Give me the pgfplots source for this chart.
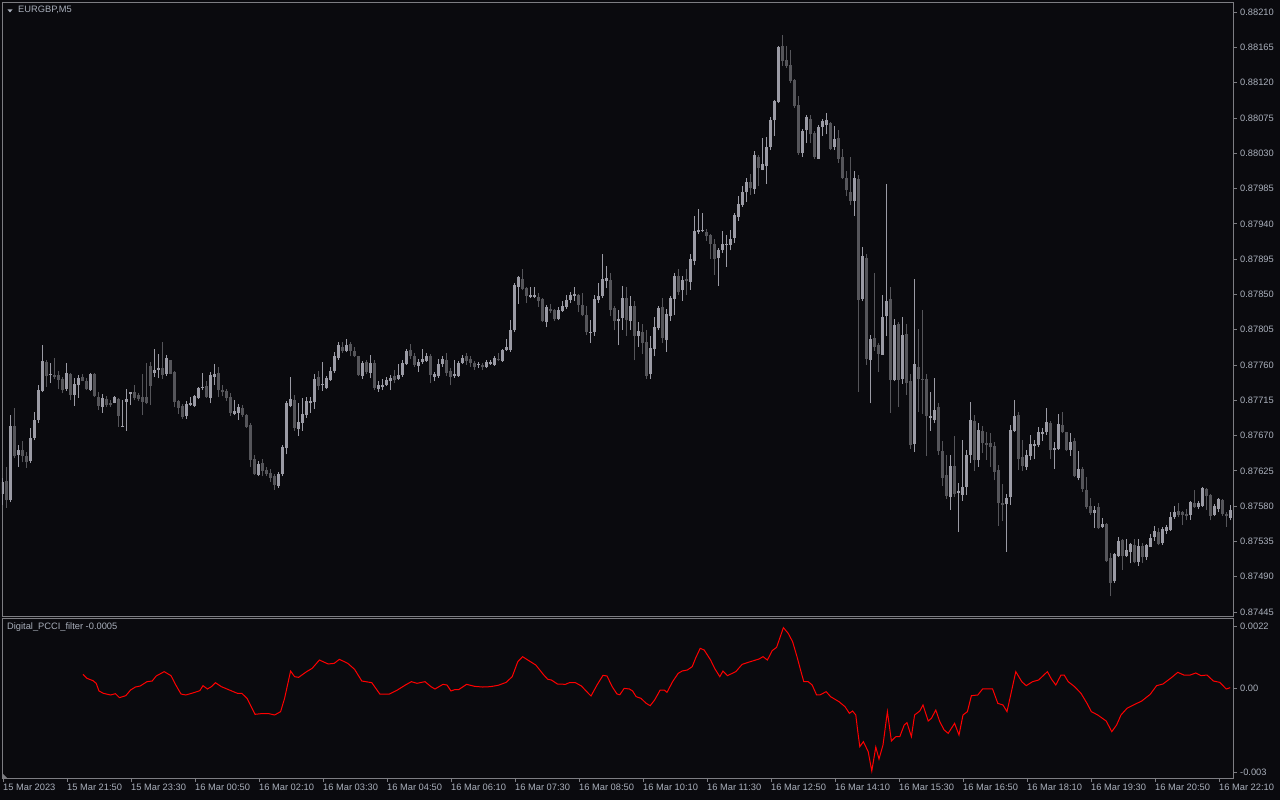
\documentclass[border=0pt]{standalone}
\usepackage{fontspec}
\setmainfont{Liberation Sans}
\usepackage{pgfplots}
\usepackage{pgfplotstable}
\pgfplotsset{compat=1.18}

\definecolor{bg}{RGB}{10,10,14}
\definecolor{bull}{RGB}{155,155,165}
\definecolor{bear}{RGB}{85,85,90}
\definecolor{framec}{RGB}{125,125,130}
\definecolor{lbl}{RGB}{170,176,188}

% EURGBP M5 bars: index, open, high, low, close
\pgfplotstableread{
x o h l c
0 0.87596 0.87616 0.87582 0.87611
1 0.87612 0.87630 0.87578 0.87588
2 0.87588 0.87696 0.87585 0.87682
3 0.87682 0.87705 0.87641 0.87644
4 0.87645 0.87658 0.87630 0.87652
5 0.87651 0.87663 0.87636 0.87644
6 0.87644 0.87649 0.87629 0.87636
7 0.87638 0.87680 0.87635 0.87667
8 0.87667 0.87700 0.87664 0.87690
9 0.87690 0.87735 0.87686 0.87728
10 0.87727 0.87785 0.87725 0.87765
11 0.87764 0.87766 0.87732 0.87746
12 0.87748 0.87763 0.87737 0.87749
13 0.87747 0.87769 0.87742 0.87745
14 0.87747 0.87752 0.87729 0.87741
15 0.87742 0.87745 0.87724 0.87728
16 0.87730 0.87762 0.87727 0.87750
17 0.87748 0.87750 0.87715 0.87722
18 0.87722 0.87743 0.87708 0.87736
19 0.87734 0.87747 0.87718 0.87744
20 0.87745 0.87749 0.87739 0.87740
21 0.87740 0.87743 0.87728 0.87729
22 0.87728 0.87750 0.87727 0.87748
23 0.87749 0.87750 0.87719 0.87720
24 0.87719 0.87726 0.87703 0.87708
25 0.87707 0.87723 0.87699 0.87718
26 0.87717 0.87720 0.87706 0.87709
27 0.87712 0.87715 0.87707 0.87709
28 0.87712 0.87720 0.87711 0.87719
29 0.87717 0.87718 0.87681 0.87695
30 0.87681 0.87716 0.87681 0.87682
31 0.87713 0.87729 0.87676 0.87717
32 0.87723 0.87725 0.87709 0.87725
33 0.87725 0.87735 0.87715 0.87718
34 0.87722 0.87724 0.87714 0.87717
35 0.87719 0.87749 0.87696 0.87713
36 0.87719 0.87763 0.87710 0.87712
37 0.87759 0.87764 0.87709 0.87733
38 0.87750 0.87781 0.87745 0.87753
39 0.87754 0.87774 0.87743 0.87756
40 0.87756 0.87789 0.87742 0.87747
41 0.87749 0.87773 0.87746 0.87769
42 0.87766 0.87767 0.87748 0.87749
43 0.87751 0.87752 0.87706 0.87713
44 0.87714 0.87715 0.87698 0.87705
45 0.87708 0.87710 0.87691 0.87694
46 0.87695 0.87714 0.87691 0.87710
47 0.87709 0.87719 0.87708 0.87712
48 0.87708 0.87722 0.87707 0.87720
49 0.87718 0.87732 0.87717 0.87731
50 0.87731 0.87750 0.87728 0.87732
51 0.87733 0.87739 0.87718 0.87719
52 0.87718 0.87751 0.87711 0.87747
53 0.87745 0.87761 0.87735 0.87748
54 0.87750 0.87757 0.87719 0.87728
55 0.87728 0.87734 0.87720 0.87725
56 0.87727 0.87729 0.87714 0.87718
57 0.87719 0.87724 0.87695 0.87699
58 0.87698 0.87715 0.87696 0.87701
59 0.87699 0.87710 0.87690 0.87706
60 0.87705 0.87709 0.87694 0.87696
61 0.87696 0.87697 0.87680 0.87681
62 0.87683 0.87686 0.87630 0.87639
63 0.87640 0.87645 0.87620 0.87621
64 0.87620 0.87638 0.87618 0.87634
65 0.87635 0.87640 0.87618 0.87625
66 0.87626 0.87630 0.87618 0.87621
67 0.87622 0.87628 0.87611 0.87616
68 0.87618 0.87621 0.87601 0.87607
69 0.87606 0.87624 0.87603 0.87621
70 0.87621 0.87658 0.87618 0.87656
71 0.87654 0.87714 0.87646 0.87712
72 0.87708 0.87745 0.87706 0.87717
73 0.87715 0.87722 0.87676 0.87680
74 0.87678 0.87711 0.87670 0.87687
75 0.87686 0.87718 0.87676 0.87698
76 0.87696 0.87719 0.87693 0.87714
77 0.87712 0.87719 0.87699 0.87714
78 0.87713 0.87749 0.87704 0.87742
79 0.87745 0.87752 0.87728 0.87733
80 0.87734 0.87764 0.87727 0.87736
81 0.87731 0.87746 0.87729 0.87743
82 0.87741 0.87757 0.87740 0.87752
83 0.87752 0.87776 0.87750 0.87771
84 0.87769 0.87789 0.87767 0.87785
85 0.87783 0.87789 0.87775 0.87778
86 0.87778 0.87793 0.87776 0.87786
87 0.87787 0.87789 0.87771 0.87778
88 0.87778 0.87783 0.87770 0.87771
89 0.87771 0.87771 0.87746 0.87747
90 0.87746 0.87765 0.87742 0.87763
91 0.87764 0.87767 0.87749 0.87751
92 0.87750 0.87773 0.87743 0.87762
93 0.87763 0.87766 0.87728 0.87731
94 0.87729 0.87740 0.87726 0.87735
95 0.87732 0.87742 0.87728 0.87735
96 0.87735 0.87745 0.87733 0.87741
97 0.87739 0.87747 0.87728 0.87744
98 0.87746 0.87754 0.87737 0.87741
99 0.87742 0.87761 0.87741 0.87747
100 0.87747 0.87766 0.87745 0.87763
101 0.87761 0.87781 0.87760 0.87778
102 0.87779 0.87787 0.87768 0.87771
103 0.87771 0.87775 0.87758 0.87760
104 0.87759 0.87768 0.87751 0.87764
105 0.87764 0.87780 0.87761 0.87768
106 0.87765 0.87775 0.87764 0.87771
107 0.87771 0.87774 0.87737 0.87747
108 0.87745 0.87751 0.87739 0.87748
109 0.87746 0.87768 0.87744 0.87761
110 0.87761 0.87771 0.87758 0.87768
111 0.87766 0.87775 0.87746 0.87750
112 0.87752 0.87756 0.87734 0.87745
113 0.87746 0.87766 0.87744 0.87748
114 0.87746 0.87765 0.87745 0.87763
115 0.87763 0.87773 0.87761 0.87769
116 0.87771 0.87775 0.87760 0.87765
117 0.87768 0.87771 0.87758 0.87763
118 0.87763 0.87765 0.87754 0.87758
119 0.87760 0.87764 0.87756 0.87761
120 0.87760 0.87763 0.87754 0.87757
121 0.87757 0.87766 0.87756 0.87764
122 0.87761 0.87767 0.87760 0.87764
123 0.87760 0.87771 0.87759 0.87769
124 0.87768 0.87775 0.87765 0.87766
125 0.87765 0.87781 0.87764 0.87779
126 0.87779 0.87793 0.87778 0.87783
127 0.87779 0.87817 0.87777 0.87805
128 0.87805 0.87865 0.87802 0.87862
129 0.87860 0.87873 0.87838 0.87872
130 0.87870 0.87882 0.87855 0.87857
131 0.87858 0.87860 0.87839 0.87848
132 0.87847 0.87860 0.87845 0.87849
133 0.87847 0.87860 0.87845 0.87849
134 0.87847 0.87852 0.87834 0.87842
135 0.87844 0.87845 0.87815 0.87816
136 0.87815 0.87837 0.87808 0.87834
137 0.87832 0.87838 0.87826 0.87829
138 0.87830 0.87832 0.87816 0.87819
139 0.87819 0.87834 0.87817 0.87830
140 0.87829 0.87841 0.87828 0.87835
141 0.87834 0.87849 0.87832 0.87843
142 0.87843 0.87853 0.87839 0.87849
143 0.87848 0.87859 0.87841 0.87850
144 0.87849 0.87850 0.87827 0.87837
145 0.87837 0.87852 0.87822 0.87824
146 0.87824 0.87835 0.87798 0.87802
147 0.87801 0.87817 0.87788 0.87802
148 0.87802 0.87849 0.87797 0.87844
149 0.87843 0.87865 0.87839 0.87848
150 0.87848 0.87901 0.87845 0.87870
151 0.87867 0.87886 0.87858 0.87871
152 0.87869 0.87877 0.87822 0.87830
153 0.87833 0.87835 0.87804 0.87816
154 0.87816 0.87830 0.87785 0.87819
155 0.87820 0.87861 0.87805 0.87846
156 0.87845 0.87859 0.87797 0.87818
157 0.87816 0.87848 0.87805 0.87835
158 0.87835 0.87842 0.87766 0.87797
159 0.87797 0.87815 0.87783 0.87803
160 0.87802 0.87812 0.87774 0.87788
161 0.87789 0.87805 0.87742 0.87746
162 0.87748 0.87797 0.87742 0.87782
163 0.87780 0.87821 0.87771 0.87808
164 0.87807 0.87835 0.87804 0.87833
165 0.87834 0.87845 0.87788 0.87795
166 0.87792 0.87831 0.87777 0.87825
167 0.87822 0.87848 0.87816 0.87846
168 0.87844 0.87877 0.87824 0.87873
169 0.87874 0.87882 0.87849 0.87853
170 0.87855 0.87874 0.87842 0.87868
171 0.87870 0.87882 0.87849 0.87867
172 0.87866 0.87902 0.87856 0.87895
173 0.87893 0.87950 0.87887 0.87931
174 0.87930 0.87959 0.87927 0.87932
175 0.87931 0.87954 0.87929 0.87932
176 0.87929 0.87933 0.87918 0.87924
177 0.87926 0.87927 0.87895 0.87914
178 0.87914 0.87921 0.87875 0.87895
179 0.87897 0.87909 0.87861 0.87907
180 0.87907 0.87931 0.87903 0.87914
181 0.87913 0.87926 0.87885 0.87914
182 0.87913 0.87932 0.87906 0.87921
183 0.87922 0.87954 0.87916 0.87951
184 0.87949 0.87975 0.87944 0.87965
185 0.87964 0.87988 0.87962 0.87980
186 0.87980 0.87999 0.87968 0.87993
187 0.87993 0.88004 0.87977 0.87986
188 0.87984 0.88033 0.87978 0.88028
189 0.88025 0.88028 0.87988 0.88011
190 0.88009 0.88050 0.88008 0.88016
191 0.88014 0.88051 0.87991 0.88038
192 0.88038 0.88076 0.88034 0.88072
193 0.88072 0.88098 0.88052 0.88096
194 0.88095 0.88167 0.88094 0.88166
195 0.88167 0.88181 0.88141 0.88147
196 0.88149 0.88167 0.88139 0.88141
197 0.88142 0.88162 0.88119 0.88122
198 0.88123 0.88124 0.88088 0.88090
199 0.88091 0.88103 0.88028 0.88030
200 0.88030 0.88061 0.88025 0.88058
201 0.88059 0.88079 0.88043 0.88076
202 0.88074 0.88079 0.88043 0.88054
203 0.88056 0.88058 0.88023 0.88025
204 0.88023 0.88066 0.88023 0.88063
205 0.88064 0.88073 0.88052 0.88071
206 0.88066 0.88081 0.88054 0.88072
207 0.88068 0.88070 0.88034 0.88036
208 0.88038 0.88065 0.88034 0.88048
209 0.88049 0.88060 0.88018 0.88023
210 0.88025 0.88035 0.87997 0.87999
211 0.87998 0.88007 0.87975 0.87983
212 0.87980 0.88025 0.87964 0.87969
213 0.87969 0.88007 0.87950 0.87998
214 0.87997 0.88002 0.87726 0.87843
215 0.87844 0.87911 0.87841 0.87899
216 0.87897 0.87901 0.87760 0.87768
217 0.87766 0.87798 0.87711 0.87793
218 0.87795 0.87877 0.87778 0.87783
219 0.87785 0.87788 0.87751 0.87774
220 0.87773 0.87849 0.87773 0.87821
221 0.87822 0.87991 0.87797 0.87842
222 0.87844 0.87859 0.87699 0.87741
223 0.87741 0.87819 0.87739 0.87811
224 0.87812 0.87815 0.87707 0.87741
225 0.87742 0.87821 0.87736 0.87798
226 0.87799 0.87812 0.87722 0.87737
227 0.87739 0.87749 0.87653 0.87658
228 0.87659 0.87870 0.87649 0.87761
229 0.87757 0.87806 0.87700 0.87742
230 0.87742 0.87830 0.87698 0.87741
231 0.87742 0.87749 0.87644 0.87695
232 0.87693 0.87725 0.87676 0.87695
233 0.87690 0.87743 0.87686 0.87703
234 0.87707 0.87711 0.87645 0.87650
235 0.87650 0.87663 0.87606 0.87616
236 0.87620 0.87645 0.87589 0.87593
237 0.87592 0.87645 0.87575 0.87631
238 0.87631 0.87669 0.87592 0.87596
239 0.87597 0.87609 0.87547 0.87599
240 0.87594 0.87664 0.87587 0.87604
241 0.87605 0.87652 0.87594 0.87645
242 0.87645 0.87713 0.87635 0.87690
243 0.87688 0.87696 0.87625 0.87639
244 0.87639 0.87686 0.87630 0.87677
245 0.87676 0.87682 0.87648 0.87661
246 0.87661 0.87674 0.87639 0.87658
247 0.87661 0.87673 0.87630 0.87655
248 0.87657 0.87662 0.87613 0.87624
249 0.87626 0.87632 0.87555 0.87584
250 0.87584 0.87608 0.87561 0.87582
251 0.87583 0.87596 0.87522 0.87591
252 0.87592 0.87683 0.87582 0.87677
253 0.87676 0.87715 0.87675 0.87695
254 0.87696 0.87700 0.87626 0.87640
255 0.87643 0.87664 0.87625 0.87631
256 0.87630 0.87652 0.87626 0.87645
257 0.87644 0.87671 0.87639 0.87659
258 0.87657 0.87665 0.87640 0.87659
259 0.87658 0.87681 0.87655 0.87674
260 0.87672 0.87680 0.87663 0.87674
261 0.87674 0.87705 0.87671 0.87687
262 0.87686 0.87688 0.87640 0.87651
263 0.87652 0.87662 0.87628 0.87654
264 0.87653 0.87698 0.87652 0.87685
265 0.87683 0.87700 0.87673 0.87674
266 0.87674 0.87675 0.87650 0.87651
267 0.87652 0.87673 0.87644 0.87662
268 0.87663 0.87667 0.87617 0.87618
269 0.87616 0.87650 0.87613 0.87628
270 0.87627 0.87630 0.87598 0.87602
271 0.87601 0.87617 0.87576 0.87579
272 0.87580 0.87591 0.87569 0.87571
273 0.87571 0.87580 0.87552 0.87575
274 0.87579 0.87584 0.87551 0.87552
275 0.87553 0.87565 0.87552 0.87557
276 0.87557 0.87559 0.87509 0.87510
277 0.87514 0.87520 0.87465 0.87482
278 0.87484 0.87520 0.87482 0.87519
279 0.87516 0.87541 0.87515 0.87536
280 0.87537 0.87538 0.87499 0.87516
281 0.87516 0.87538 0.87515 0.87524
282 0.87522 0.87533 0.87507 0.87532
283 0.87530 0.87538 0.87507 0.87509
284 0.87509 0.87538 0.87504 0.87529
285 0.87529 0.87533 0.87508 0.87515
286 0.87515 0.87532 0.87512 0.87530
287 0.87528 0.87545 0.87528 0.87540
288 0.87541 0.87555 0.87536 0.87548
289 0.87547 0.87552 0.87530 0.87532
290 0.87533 0.87554 0.87531 0.87551
291 0.87549 0.87556 0.87545 0.87553
292 0.87550 0.87572 0.87549 0.87566
293 0.87566 0.87580 0.87564 0.87572
294 0.87574 0.87584 0.87566 0.87569
295 0.87572 0.87574 0.87556 0.87569
296 0.87570 0.87577 0.87562 0.87568
297 0.87569 0.87587 0.87563 0.87585
298 0.87584 0.87601 0.87578 0.87579
299 0.87579 0.87587 0.87576 0.87584
300 0.87580 0.87604 0.87579 0.87603
301 0.87602 0.87603 0.87575 0.87593
302 0.87594 0.87595 0.87562 0.87568
303 0.87569 0.87583 0.87567 0.87580
304 0.87577 0.87591 0.87572 0.87589
305 0.87588 0.87589 0.87568 0.87570
306 0.87570 0.87572 0.87554 0.87567
307 0.87565 0.87582 0.87562 0.87575
}\candles

% Digital_PCCI_filter
\pgfplotstableread{
x y
20.0 0.000485
21.0 0.000343
22.5 0.000260
23.3 0.000166
24.0 -0.000106
25.1 -0.000189
26.9 -0.000248
28.1 -0.000201
29.1 -0.000343
30.7 -0.000272
31.9 -0.000071
33.1 0.000035
34.3 0.000071
36.0 0.000225
37.3 0.000248
38.3 0.000426
40.3 0.000580
42.0 0.000438
43.2 0.000106
44.5 -0.000213
45.7 -0.000248
47.7 -0.000166
49.2 -0.000095
50.0 0.000083
51.1 -0.000035
52.1 0.000047
53.1 0.000189
54.6 0.000047
56.6 -0.000071
58.6 -0.000189
59.7 -0.000189
61.0 -0.000367
63.0 -0.000934
64.5 -0.000911
66.5 -0.000911
67.9 -0.000958
69.4 -0.000840
70.4 -0.000367
71.9 0.000603
72.9 0.000402
73.9 0.000378
75.9 0.000580
77.3 0.000698
79.1 0.000993
81.3 0.000852
82.8 0.000875
84.1 0.001017
86.2 0.000875
87.9 0.000662
89.7 0.000248
92.2 0.000189
94.2 -0.000213
96.6 -0.000213
98.6 -0.000071
100.6 0.000106
102.1 0.000225
103.5 0.000166
105.5 0.000225
107.0 0.000047
108.0 -0.000035
110.0 0.000130
111.0 0.000106
112.0 -0.000106
112.9 -0.000059
113.9 -0.000059
115.9 0.000130
117.9 0.000059
119.9 0.000035
121.8 0.000047
123.8 0.000095
125.8 0.000201
127.3 0.000402
128.7 0.000934
129.9 0.001112
131.2 0.000993
133.2 0.000816
135.2 0.000461
136.2 0.000308
137.1 0.000284
138.6 0.000142
140.6 0.000130
141.6 0.000189
143.1 0.000189
144.6 0.000071
146.1 -0.000154
147.0 -0.000284
148.5 0.000106
150.0 0.000449
151.0 0.000426
152.3 0.000047
153.5 -0.000213
154.2 -0.000240
155.3 -0.000012
156.6 -0.000035
157.4 -0.000106
158.3 -0.000308
159.5 -0.000367
160.8 -0.000544
161.8 -0.000627
162.9 -0.000426
164.3 -0.000071
165.3 -0.000071
166.0 -0.000154
167.4 0.000225
168.8 0.000520
169.8 0.000603
171.1 0.000639
172.3 0.000757
173.2 0.001076
174.3 0.001407
175.3 0.001348
176.9 0.000993
177.9 0.000698
179.2 0.000402
180.0 0.000603
181.1 0.000438
183.2 0.000580
184.8 0.000840
186.3 0.000911
187.4 0.000958
189.0 0.001029
190.0 0.001112
191.1 0.000993
192.3 0.001325
193.4 0.001443
195.1 0.002141
196.3 0.001940
197.4 0.001644
198.5 0.001112
199.5 0.000580
200.2 0.000225
201.3 0.000225
202.3 0.000106
203.4 -0.000248
204.2 -0.000248
205.8 -0.000130
206.9 -0.000308
209.0 -0.000485
210.5 -0.000662
211.6 -0.000899
212.4 -0.000816
213.2 -0.000958
213.7 -0.001549
214.2 -0.002082
215.1 -0.001904
216.3 -0.002259
217.2 -0.002945
218.2 -0.002093
219.0 -0.002519
220.0 -0.002022
221.1 -0.000840
222.1 -0.001880
223.2 -0.001727
224.2 -0.001727
225.3 -0.001313
226.0 -0.001230
227.1 -0.001727
227.9 -0.000958
229.2 -0.000816
230.0 -0.000603
231.3 -0.001171
232.1 -0.001076
233.2 -0.000781
234.2 -0.001195
235.3 -0.001490
236.3 -0.001608
237.9 -0.001254
239.0 -0.001668
240.0 -0.000958
241.1 -0.000840
242.1 -0.000272
243.7 -0.000248
244.9 -0.000035
247.4 -0.000035
248.7 -0.000544
250.0 -0.000603
251.0 -0.000840
253.2 0.000580
254.7 0.000225
255.8 0.000083
257.4 0.000225
258.9 0.000284
261.1 0.000580
262.1 0.000319
263.2 0.000106
264.5 0.000461
265.3 0.000461
266.3 0.000225
267.9 0.000047
269.5 -0.000189
271.0 -0.000544
272.1 -0.000840
273.7 -0.000958
275.8 -0.001171
277.2 -0.001549
278.4 -0.001313
279.5 -0.000958
281.0 -0.000721
282.6 -0.000603
284.7 -0.000461
286.8 -0.000225
288.4 0.000083
290.0 0.000142
292.1 0.000367
293.7 0.000556
295.2 0.000461
296.8 0.000461
298.2 0.000532
299.5 0.000438
301.0 0.000461
302.6 0.000248
304.2 0.000201
305.8 -0.000035
306.8 0.000012
}\pcci

\pgfplotsset{
  mt/.style={
    scale only axis, width=1231pt,
    xmin=-0.25, xmax=307.5,
    axis line style={framec, line width=0.8pt},
    tick style={framec, line width=0.8pt},
    tick align=outside, major tick length=4pt,
    ticklabel style={font=\fontsize{9.3}{10}\selectfont, text=lbl, inner sep=0pt},
    scaled y ticks=false, scaled x ticks=false,
    clip=true,
  },
}

\begin{document}
\begin{tikzpicture}
\fill[bg] (0pt,0pt) rectangle (1280pt,800pt);

% price panel
\begin{axis}[mt,
  at={(2pt,184pt)}, anchor=south west, height=614pt,
  ymin=0.874400, ymax=0.882228,
  xtick=\empty,
  ytick={0.87445,0.87490,0.87535,0.87580,0.87625,0.87670,0.87715,0.87760,0.87805,
         0.87850,0.87895,0.87940,0.87985,0.88030,0.88075,0.88120,0.88165,0.88210},
  yticklabels={0.87445,0.87490,0.87535,0.87580,0.87625,0.87670,0.87715,0.87760,0.87805,
         0.87850,0.87895,0.87940,0.87985,0.88030,0.88075,0.88120,0.88165,0.88210},
  ytick pos=upper, yticklabel pos=upper,
  yticklabel style={anchor=west, xshift=3pt},
]
% wicks
\addplot[draw=none, mark=none, forget plot,
  restrict expr to domain={\thisrow{c}-\thisrow{o}}{-0.000005:1},
  error bars/.cd, y dir=plus, y explicit, error mark=none,
  error bar style={draw=bull, line width=1pt}]
  table[x=x, y=l, y error plus expr={\thisrow{h}-\thisrow{l}}] {\candles};
\addplot[draw=none, mark=none, forget plot,
  restrict expr to domain={\thisrow{o}-\thisrow{c}}{0.000005:1},
  error bars/.cd, y dir=plus, y explicit, error mark=none,
  error bar style={draw=bear, line width=1pt}]
  table[x=x, y=l, y error plus expr={\thisrow{h}-\thisrow{l}}] {\candles};
% bodies
\addplot[draw=none, mark=none, forget plot,
  restrict expr to domain={\thisrow{c}-\thisrow{o}}{-0.000005:1},
  error bars/.cd, y dir=plus, y explicit, error mark=none,
  error bar style={draw=bull, line width=3pt}]
  table[x=x, y=o, y error plus expr={max(\thisrow{c}-\thisrow{o},0.00001)}] {\candles};
\addplot[draw=none, mark=none, forget plot,
  restrict expr to domain={\thisrow{o}-\thisrow{c}}{0.000005:1},
  error bars/.cd, y dir=plus, y explicit, error mark=none,
  error bar style={draw=bear, line width=3pt}]
  table[x=x, y=c, y error plus expr={\thisrow{o}-\thisrow{c}}] {\candles};
\end{axis}

% indicator panel
\begin{axis}[mt,
  at={(2pt,22pt)}, anchor=south west, height=159.5pt,
  ymin=-0.003193, ymax=0.002466,
  ytick={-0.003,0,0.0022}, yticklabels={-0.003,0.00,0.0022},
  ytick pos=upper, yticklabel pos=upper,
  yticklabel style={anchor=west, xshift=3pt},
  xtick={0,16,...,304},
  xticklabels={15 Mar 2023,15 Mar 21:50,15 Mar 23:30,16 Mar 00:50,16 Mar 02:10,
    16 Mar 03:30,16 Mar 04:50,16 Mar 06:10,16 Mar 07:30,16 Mar 08:50,16 Mar 10:10,
    16 Mar 11:30,16 Mar 12:50,16 Mar 14:10,16 Mar 15:30,16 Mar 16:50,16 Mar 18:10,
    16 Mar 19:30,16 Mar 20:50,16 Mar 22:10},
  xtick pos=lower, xticklabel pos=lower,
  xticklabel style={anchor=north west, yshift=-2pt},
]
\addplot[color=red, line width=1pt, mark=none] table[x=x, y=y] {\pcci};
\end{axis}

% captions
\fill[lbl] (7.5pt,790.5pt) -- (12.5pt,790.5pt) -- (10pt,787.5pt) -- cycle;
\node[anchor=west, inner sep=0pt, text=lbl, font=\fontsize{9.3}{10}\selectfont]
  at (18pt,790pt) {EURGBP,M5};
\node[anchor=west, inner sep=0pt, text=lbl, font=\fontsize{9.3}{10}\selectfont]
  at (7pt,173pt) {Digital\_PCCI\_filter -0.0005};
\fill[framec] (2pt,22pt) -- (7pt,22pt) -- (2pt,27pt) -- cycle;
\end{tikzpicture}
\end{document}
